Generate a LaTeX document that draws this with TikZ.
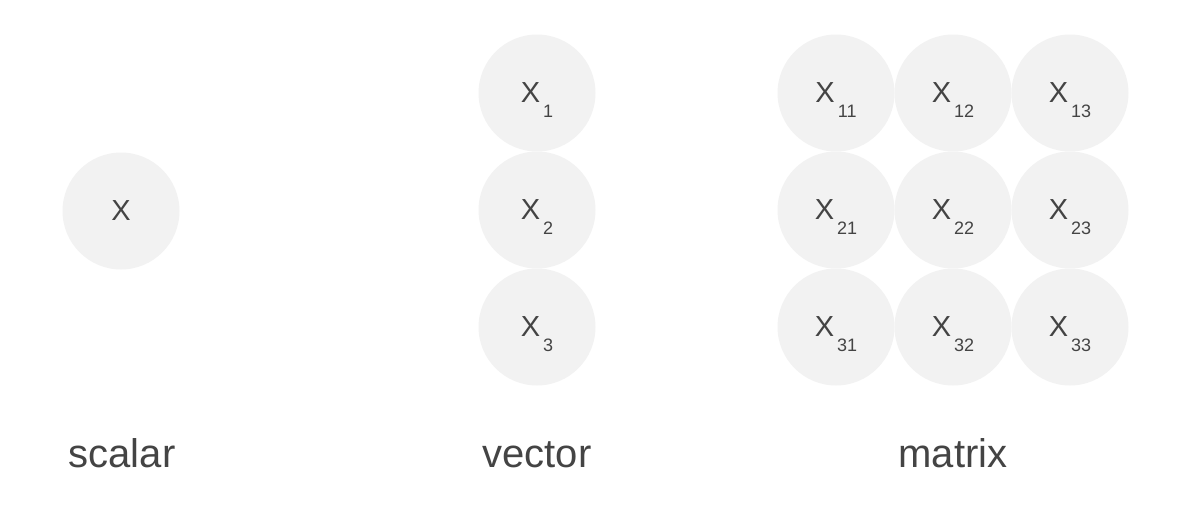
\documentclass[tikz,border=0pt]{standalone}
\usepackage{fontspec}
\setmainfont{Liberation Sans}
\definecolor{cellfill}{HTML}{F2F2F2}
\definecolor{inkgray}{HTML}{444444}
\newcommand{\xsub}[1]{X\hspace{1.5pt}\smash{\raisebox{-7.2pt}{\fontsize{9}{9}\selectfont #1}}}
\tikzset{
    cell/.style={circle, fill=cellfill, inner sep=0pt, minimum size=58.5pt,
                 text=inkgray, font=\fontsize{14.5}{15}\selectfont},
    caption/.style={anchor=base, text=inkgray, font=\fontsize{20}{22}\selectfont}
}
\begin{document}
\begin{tikzpicture}[x=0.5pt, y=-0.5pt]
            \useasboundingbox (0,0) rectangle (1200,504);

            \node[cell] (s) at (121,211) {X};
            \node[caption] (scalar) at (122,467) {scalar};

            \node[cell] (v1) at (537,93)  {\xsub{1}};
            \node[cell] (v2) at (537,210) {\xsub{2}};
            \node[cell] (v3) at (537,327) {\xsub{3}};
            \node[caption] (vector) at (537,467) {vector};

            \node[cell] (m11) at (836,93)   {\xsub{11}};
            \node[cell] (m12) at (953,93)   {\xsub{12}};
            \node[cell] (m13) at (1070,93)  {\xsub{13}};
            \node[cell] (m21) at (836,210)  {\xsub{21}};
            \node[cell] (m22) at (953,210)  {\xsub{22}};
            \node[cell] (m23) at (1070,210) {\xsub{23}};
            \node[cell] (m31) at (836,327)  {\xsub{31}};
            \node[cell] (m32) at (953,327)  {\xsub{32}};
            \node[cell] (m33) at (1070,327) {\xsub{33}};
            \node[caption] (matrix) at (953,467) {matrix};
\end{tikzpicture}
\end{document}
